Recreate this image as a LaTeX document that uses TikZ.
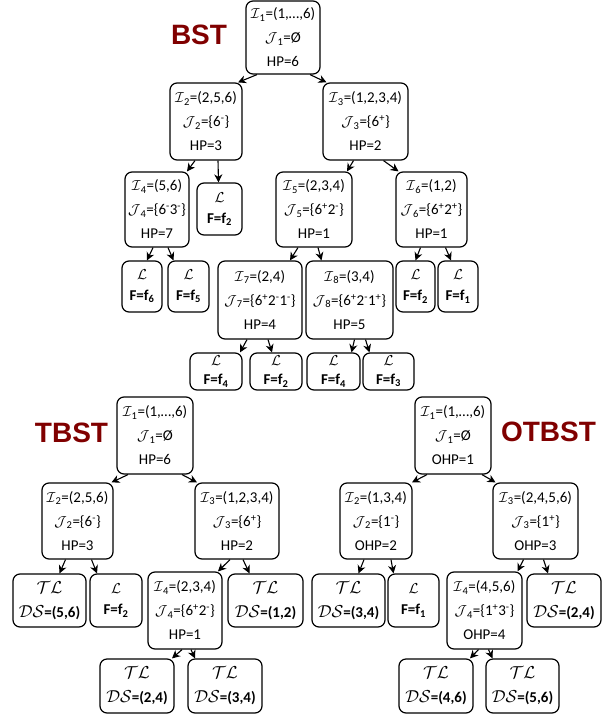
\documentclass[tikz,border=0pt]{standalone}
\usepackage{amsmath,amssymb}
\usepackage{fontspec}
\setmainfont{Carlito}
\newfontfamily\titlefont{Liberation Sans}
\usetikzlibrary{arrows.meta}
\definecolor{titlered}{RGB}{128,0,0}
\newcommand{\TLlabel}{{\fontsize{18}{24}\selectfont$\mathcal{TL}$}}
\newcommand{\DSlabel}[1]{{\fontsize{18}{24}\selectfont$\mathcal{DS}$}{\fontsize{15}{24}\selectfont\bfseries=(#1)}}

\begin{document}
\begin{tikzpicture}[x=1pt,y=-1pt,
						boxnode/.style={draw=black, line width=1.2pt, rounded corners=7pt, align=center, inner sep=0pt, font=\fontsize{15}{24}\selectfont},
						leafnode/.style={boxnode, font=\fontsize{15}{21}\selectfont},
						tlnode/.style={boxnode, font=\fontsize{15}{24}\selectfont},
						titlenode/.style={font=\titlefont\bfseries\fontsize{28}{28}\selectfont, text=titlered},
						arrow/.style={line width=1.1pt, -{Stealth[length=8pt,width=8pt,inset=2.5pt]}},
						]
						\useasboundingbox (0,0) rectangle (612,717);
						%Titles
						\node[titlenode]	(tbst0)	at	(199,35)	{BST};
						\node[titlenode]	(tbst1)	at	(71.5,433)	{TBST};
						\node[titlenode]	(tbst2)	at	(548.5,432)	{OTBST};

						%Nodes BST
						\node[boxnode, minimum width=74, minimum height=73]	(n1)	at	(283,37.5)	{$\mathcal{I}$\textsubscript{1}=(1,…,6)\\$\mathcal{J}$\textsubscript{1}=Ø\\HP=6};
						\node[boxnode, minimum width=72, minimum height=77]	(n2)	at	(206,121.5)	{$\mathcal{I}$\textsubscript{2}=(2,5,6)\\$\mathcal{J}$\textsubscript{2}=\{6\textsuperscript{-}\}\\HP=3};
						\node[boxnode, minimum width=85, minimum height=77]	(n3)	at	(365.5,121.5)	{$\mathcal{I}$\textsubscript{3}=(1,2,3,4)\\$\mathcal{J}$\textsubscript{3}=\{6\textsuperscript{+}\}\\HP=2};
						\node[boxnode, minimum width=64, minimum height=75]	(n4)	at	(157,209.5)	{$\mathcal{I}$\textsubscript{4}=(5,6)\\$\mathcal{J}$\textsubscript{4}=\{6\textsuperscript{-}3\textsuperscript{-}\}\\HP=7};
						\node[leafnode, minimum width=45, minimum height=52]	(l1)	at	(219.5,209)	{$\mathcal{L}$\\\textbf{F=f\textsubscript{2}}};
						\node[boxnode, minimum width=76, minimum height=75]	(n5)	at	(314,209.5)	{$\mathcal{I}$\textsubscript{5}=(2,3,4)\\$\mathcal{J}$\textsubscript{5}=\{6\textsuperscript{+}2\textsuperscript{-}\}\\HP=1};
						\node[boxnode, minimum width=71, minimum height=75]	(n6)	at	(431.5,209.5)	{$\mathcal{I}$\textsubscript{6}=(1,2)\\$\mathcal{J}$\textsubscript{6}=\{6\textsuperscript{+}2\textsuperscript{+}\}\\HP=1};
						\node[leafnode, minimum width=40, minimum height=51]	(l2)	at	(142,286.5)	{$\mathcal{L}$\\\textbf{F=f\textsubscript{6}}};
						\node[leafnode, minimum width=41, minimum height=51]	(l3)	at	(188.5,286.5)	{$\mathcal{L}$\\\textbf{F=f\textsubscript{5}}};
						\node[boxnode, minimum width=84, minimum height=78]	(n7)	at	(260,300)	{$\mathcal{I}$\textsubscript{7}=(2,4)\\$\mathcal{J}$\textsubscript{7}=\{6\textsuperscript{+}2\textsuperscript{-}1\textsuperscript{-}\}\\HP=4};
						\node[boxnode, minimum width=87, minimum height=78]	(n8)	at	(349.5,300)	{$\mathcal{I}$\textsubscript{8}=(3,4)\\$\mathcal{J}$\textsubscript{8}=\{6\textsuperscript{+}2\textsuperscript{-}1\textsuperscript{+}\}\\HP=5};
						\node[leafnode, minimum width=39, minimum height=51]	(l4)	at	(415.5,286.5)	{$\mathcal{L}$\\\textbf{F=f\textsubscript{2}}};
						\node[leafnode, minimum width=40, minimum height=51]	(l5)	at	(458,286.5)	{$\mathcal{L}$\\\textbf{F=f\textsubscript{1}}};
						\node[leafnode, minimum width=52, minimum height=37, font=\fontsize{15}{19}\selectfont]	(l6)	at	(216,371.5)	{$\mathcal{L}$\\\textbf{F=f\textsubscript{4}}};
						\node[leafnode, minimum width=52, minimum height=37, font=\fontsize{15}{19}\selectfont]	(l7)	at	(276,371.5)	{$\mathcal{L}$\\\textbf{F=f\textsubscript{2}}};
						\node[leafnode, minimum width=53, minimum height=37, font=\fontsize{15}{19}\selectfont]	(l8)	at	(333.5,371.5)	{$\mathcal{L}$\\\textbf{F=f\textsubscript{4}}};
						\node[leafnode, minimum width=51, minimum height=37, font=\fontsize{15}{19}\selectfont]	(l9)	at	(388.5,371.5)	{$\mathcal{L}$\\\textbf{F=f\textsubscript{3}}};

						%Nodes TBST
						\node[boxnode, minimum width=76, minimum height=77]	(t1)	at	(155,435.5)	{$\mathcal{I}$\textsubscript{1}=(1,…,6)\\$\mathcal{J}$\textsubscript{1}=Ø\\HP=6};
						\node[boxnode, minimum width=71, minimum height=76]	(t2)	at	(77.5,521)	{$\mathcal{I}$\textsubscript{2}=(2,5,6)\\$\mathcal{J}$\textsubscript{2}=\{6\textsuperscript{-}\}\\HP=3};
						\node[boxnode, minimum width=84, minimum height=76]	(t3)	at	(237,521)	{$\mathcal{I}$\textsubscript{3}=(1,2,3,4)\\$\mathcal{J}$\textsubscript{3}=\{6\textsuperscript{+}\}\\HP=2};
						\node[tlnode, minimum width=73, minimum height=53]	(t5)	at	(49.5,600.5)	{\TLlabel\\\DSlabel{5,6}};
						\node[leafnode, minimum width=52, minimum height=53]	(t6)	at	(116,600.5)	{$\mathcal{L}$\\\textbf{F=f\textsubscript{2}}};
						\node[boxnode, minimum width=74, minimum height=77]	(t4)	at	(185,610.5)	{$\mathcal{I}$\textsubscript{4}=(2,3,4)\\$\mathcal{J}$\textsubscript{4}=\{6\textsuperscript{+}2\textsuperscript{-}\}\\HP=1};
						\node[tlnode, minimum width=75, minimum height=53]	(t7)	at	(265.5,600.5)	{\TLlabel\\\DSlabel{1,2}};
						\node[tlnode, minimum width=74, minimum height=54]	(t8)	at	(137,686)	{\TLlabel\\\DSlabel{2,4}};
						\node[tlnode, minimum width=74, minimum height=54]	(t9)	at	(225,686)	{\TLlabel\\\DSlabel{3,4}};

						%Nodes OTBST
						\node[boxnode, minimum width=76, minimum height=77]	(o1)	at	(453,435.5)	{$\mathcal{I}$\textsubscript{1}=(1,…,6)\\$\mathcal{J}$\textsubscript{1}=Ø\\OHP=1};
						\node[boxnode, minimum width=72, minimum height=76]	(o2)	at	(376,521)	{$\mathcal{I}$\textsubscript{2}=(1,3,4)\\$\mathcal{J}$\textsubscript{2}=\{1\textsuperscript{-}\}\\OHP=2};
						\node[boxnode, minimum width=85, minimum height=76]	(o3)	at	(535.5,521)	{$\mathcal{I}$\textsubscript{3}=(2,4,5,6)\\$\mathcal{J}$\textsubscript{3}=\{1\textsuperscript{+}\}\\OHP=3};
						\node[tlnode, minimum width=73, minimum height=53]	(o5)	at	(348.5,600.5)	{\TLlabel\\\DSlabel{3,4}};
						\node[leafnode, minimum width=51, minimum height=53]	(o6)	at	(413.5,600.5)	{$\mathcal{L}$\\\textbf{F=f\textsubscript{1}}};
						\node[boxnode, minimum width=75, minimum height=77]	(o4)	at	(484.5,610.5)	{$\mathcal{I}$\textsubscript{4}=(4,5,6)\\$\mathcal{J}$\textsubscript{4}=\{1\textsuperscript{+}3\textsuperscript{-}\}\\OHP=4};
						\node[tlnode, minimum width=74, minimum height=53]	(o7)	at	(564,600.5)	{\TLlabel\\\DSlabel{2,4}};
						\node[tlnode, minimum width=74, minimum height=54]	(o8)	at	(436,686)	{\TLlabel\\\DSlabel{4,6}};
						\node[tlnode, minimum width=73, minimum height=54]	(o9)	at	(522.5,686)	{\TLlabel\\\DSlabel{5,6}};

						%Lines BST
						\draw[arrow] ([xshift=-26pt]n1.south) -- ([xshift=32pt]n2.north);
						\draw[arrow] ([xshift=27pt]n1.south) -- ([xshift=-39pt]n3.north);
						\draw[arrow] ([xshift=-11pt]n2.south) -- ([xshift=30pt]n4.north);
						\draw[arrow] ([xshift=12pt]n2.south) -- ([xshift=-1pt]l1.north);
						\draw[arrow] ([xshift=-12pt]n3.south) -- ([xshift=33pt]n5.north);
						\draw[arrow] ([xshift=18pt]n3.south) -- ([xshift=-33pt]n6.north);
						\draw[arrow] ([xshift=-4pt]n4.south) -- ([xshift=5pt]l2.north);
						\draw[arrow] ([xshift=11pt]n4.south) -- ([xshift=-15pt]l3.north);
						\draw[arrow] ([xshift=-16pt]n5.south) -- ([xshift=30pt]n7.north);
						\draw[arrow] ([xshift=4pt]n5.south) -- ([xshift=-28pt]n8.north);
						\draw[arrow] ([xshift=-11pt]n6.south) -- ([xshift=0pt]l4.north);
						\draw[arrow] ([xshift=14pt]n6.south) -- ([xshift=-7pt]l5.north);
						\draw[arrow] ([xshift=-13pt]n7.south) -- ([xshift=24pt]l6.north);
						\draw[arrow] ([xshift=8pt]n7.south) -- ([xshift=-4pt]l7.north);
						\draw[arrow] ([xshift=5pt]n8.south) -- ([xshift=18pt]l8.north);
						\draw[arrow] ([xshift=16pt]n8.south) -- ([xshift=-19pt]l9.north);

						%Lines TBST
						\draw[arrow] ([xshift=-27pt]t1.south) -- ([xshift=34pt]t2.north);
						\draw[arrow] ([xshift=27pt]t1.south) -- ([xshift=-40pt]t3.north);
						\draw[arrow] ([xshift=-12pt]t2.south) -- ([xshift=10pt]t5.north);
						\draw[arrow] ([xshift=14pt]t2.south) -- ([xshift=-19pt]t6.north);
						\draw[arrow] ([xshift=-7pt]t3.south) -- ([xshift=33pt]t4.north);
						\draw[arrow] ([xshift=6pt]t3.south) -- ([xshift=-16pt]t7.north);
						\draw[arrow] ([xshift=-3pt]t4.south) -- ([xshift=35pt]t8.north);
						\draw[arrow] ([xshift=6pt]t4.south) -- ([xshift=-30pt]t9.north);

						%Lines OTBST
						\draw[arrow] ([xshift=-26pt]o1.south) -- ([xshift=36pt]o2.north);
						\draw[arrow] ([xshift=29pt]o1.south) -- ([xshift=-40pt]o3.north);
						\draw[arrow] ([xshift=-12pt]o2.south) -- ([xshift=10pt]o5.north);
						\draw[arrow] ([xshift=15pt]o2.south) -- ([xshift=-20pt]o6.north);
						\draw[arrow] ([xshift=-12pt]o3.south) -- ([xshift=33pt]o4.north);
						\draw[arrow] ([xshift=8pt]o3.south) -- ([xshift=-16pt]o7.north);
						\draw[arrow] ([xshift=-6pt]o4.south) -- ([xshift=34pt]o8.north);
						\draw[arrow] ([xshift=4pt]o4.south) -- ([xshift=-30pt]o9.north);
					\end{tikzpicture}
\end{document}
